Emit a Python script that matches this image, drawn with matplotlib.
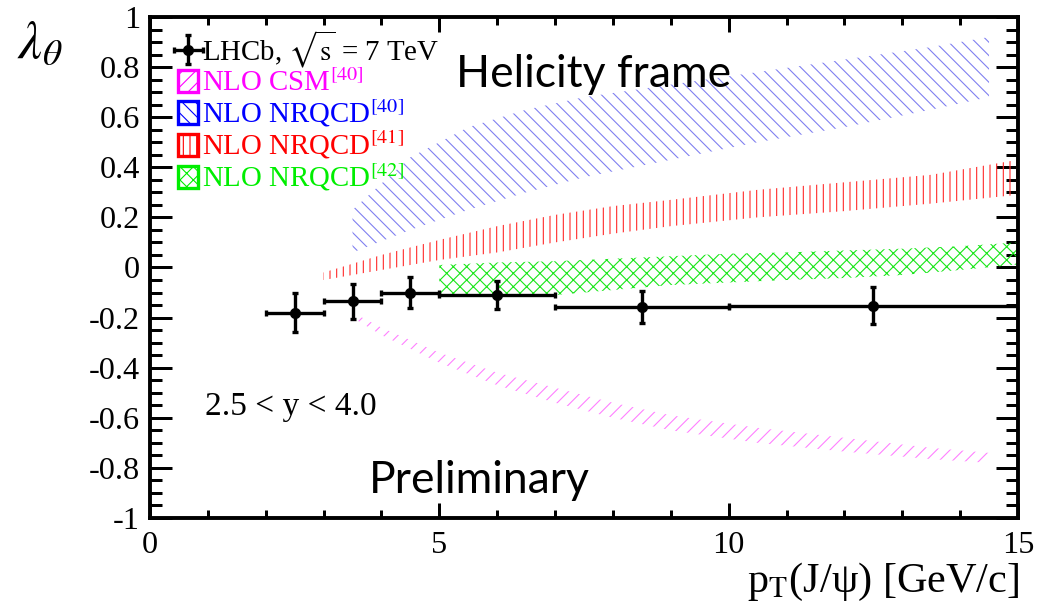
import matplotlib
matplotlib.use("Agg")
import matplotlib.pyplot as plt
import matplotlib.ticker as ticker
from matplotlib.patches import Patch
import numpy as np

# LHCb data: lambda_theta vs pT(J/psi), helicity frame
pt = [2.5, 3.5, 4.5, 6.0, 8.5, 12.5]
pt_lo = [2.0, 3.0, 4.0, 5.0, 7.0, 10.0]
pt_hi = [3.0, 4.0, 5.0, 7.0, 10.0, 15.0]
lam = [-0.18, -0.135, -0.10, -0.11, -0.158, -0.152]
lam_err = [0.077, 0.07, 0.062, 0.056, 0.063, 0.075]

# NLO CSM [40]
csm_x = [3.5, 4.0, 5.0, 6.0, 7.0, 8.0, 9.0, 10.5, 12.0, 13.5, 14.5]
csm_hi = [-0.18, -0.24, -0.34, -0.42, -0.48, -0.54, -0.59, -0.64, -0.68, -0.72, -0.74]
csm_lo = [-0.20, -0.27, -0.38, -0.47, -0.54, -0.60, -0.65, -0.70, -0.735, -0.765, -0.78]

# NLO NRQCD [40]
nrqcd40_x = [3.5, 4.5, 5.5, 6.5, 7.5, 9.0, 10.5, 12.0, 13.5, 14.5]
nrqcd40_hi = [0.23, 0.44, 0.56, 0.63, 0.68, 0.73, 0.78, 0.83, 0.88, 0.92]
nrqcd40_lo = [0.06, 0.15, 0.23, 0.30, 0.36, 0.43, 0.50, 0.56, 0.63, 0.68]

# NLO NRQCD [41]
nrqcd41_x = [3.0, 4.0, 5.0, 6.0, 7.0, 8.0, 9.0, 10.5, 12.0, 13.5, 15.0]
nrqcd41_hi = [-0.02, 0.05, 0.11, 0.165, 0.21, 0.245, 0.27, 0.31, 0.34, 0.37, 0.43]
nrqcd41_lo = [-0.05, -0.01, 0.03, 0.06, 0.10, 0.135, 0.165, 0.20, 0.225, 0.255, 0.29]

# NLO NRQCD [42]
nrqcd42_x = [5.0, 6.0, 7.0, 8.0, 9.0, 10.0, 11.0, 12.0, 13.0, 14.0, 15.0]
nrqcd42_hi = [0.01, 0.02, 0.025, 0.035, 0.045, 0.055, 0.06, 0.068, 0.075, 0.085, 0.10]
nrqcd42_lo = [-0.115, -0.115, -0.11, -0.09, -0.07, -0.06, -0.05, -0.042, -0.03, -0.01, 0.012]

xtick_vals = [0, 5, 10, 15]
xtick_labels = ["0", "5", "10", "15"]
ytick_vals = [-1.0, -0.8, -0.6, -0.4, -0.2, 0.0, 0.2, 0.4, 0.6, 0.8, 1.0]
ytick_labels = ["-1", "-0.8", "-0.6", "-0.4", "-0.2", "0", "0.2", "0.4", "0.6", "0.8", "1"]

plt.rcParams["font.family"] = ["Liberation Serif", "DejaVu Serif"]
plt.rcParams["mathtext.fontset"] = "stix"
plt.rcParams["hatch.linewidth"] = 1.0

fig = plt.figure(figsize=(1038 / 80, 613 / 80), dpi=80)
ax = fig.add_axes([0.1445, 0.155, 0.8362, 0.8173])

bands = [
    (csm_x, csm_lo, csm_hi, "#ff80ff", "//"),
    (nrqcd40_x, nrqcd40_lo, nrqcd40_hi, "#8080f0", "\\\\"),
    (nrqcd41_x, nrqcd41_lo, nrqcd41_hi, "#ff2a2a", "||"),
    (nrqcd42_x, nrqcd42_lo, nrqcd42_hi, "#19e619", "xx"),
]
for bx, blo, bhi, col, hat in bands:
    ax.fill_between(bx, blo, bhi, facecolor="none", edgecolor=col,
                    hatch=hat, linewidth=0, zorder=2)

xerr = [np.subtract(pt, pt_lo), np.subtract(pt_hi, pt)]
data = ax.errorbar(pt, lam, xerr=xerr, yerr=lam_err, fmt="o", color="black",
                   markersize=9, elinewidth=3, capsize=3, capthick=3, zorder=5)

ax.set_xlim(0, 15)
ax.set_ylim(-1, 1)
ax.set_xticks(xtick_vals, xtick_labels)
ax.set_yticks(ytick_vals, ytick_labels)
ax.xaxis.set_minor_locator(ticker.MultipleLocator(1))
ax.yaxis.set_minor_locator(ticker.MultipleLocator(0.05))
ax.tick_params(which="both", direction="in", top=True, right=True, width=2.7,
               labelsize=29)
ax.tick_params(axis="x", which="major", length=13.5, pad=12)
ax.tick_params(axis="x", which="minor", length=7)
ax.tick_params(axis="y", which="major", length=20, pad=9)
ax.tick_params(axis="y", which="minor", length=11)
for sp in ax.spines.values():
    sp.set_linewidth(3.5)

ax.set_xlabel(r"p$_{\rm T}$(J/ψ) [GeV/c]", fontsize=38, ha="right", va="top")
ax.xaxis.set_label_coords(1.002, -0.085)
ax.set_ylabel(r"$\lambda_\theta$", fontsize=48, rotation=0, ha="center", va="center")
ax.yaxis.set_label_coords(-0.127, 0.944)

sans = ["Lato", "DejaVu Sans"]
ax.text(7.67, 0.77, "Helicity frame", fontsize=40, family=sans,
        ha="center", va="center")
ax.text(5.69, -0.85, "Preliminary", fontsize=40, family=sans,
        ha="center", va="center")
ax.text(0.95, -0.555, "2.5 < y < 4.0", fontsize=30, ha="left", va="center")

handles = [data]
labels = [r"LHCb, $\sqrt{\rm s}$ = 7 TeV"]
names = [r"NLO CSM$^{[40]}$", r"NLO NRQCD$^{[40]}$", r"NLO NRQCD$^{[41]}$",
         r"NLO NRQCD$^{[42]}$"]
for (bx, blo, bhi, col, hat), name in zip(bands, names):
    handles.append(Patch(facecolor="none", edgecolor=col, hatch=hat, linewidth=3))
    labels.append(name)
leg = ax.legend(handles, labels, loc="upper left", bbox_to_anchor=(0.014, 1.01),
                frameon=False, fontsize=26, handlelength=0.7, handleheight=0.8,
                handletextpad=0.12, labelspacing=0.0, borderpad=0.05)
leg_colors = ["black", "#ff00ff", "#0000ff", "#ff0000", "#00ee00"]
for txt, c in zip(leg.get_texts(), leg_colors):
    txt.set_color(c)
for h, c in zip(leg.legend_handles[1:], leg_colors[1:]):
    h.set_edgecolor(c)

fig.savefig("out.png", dpi=80)
